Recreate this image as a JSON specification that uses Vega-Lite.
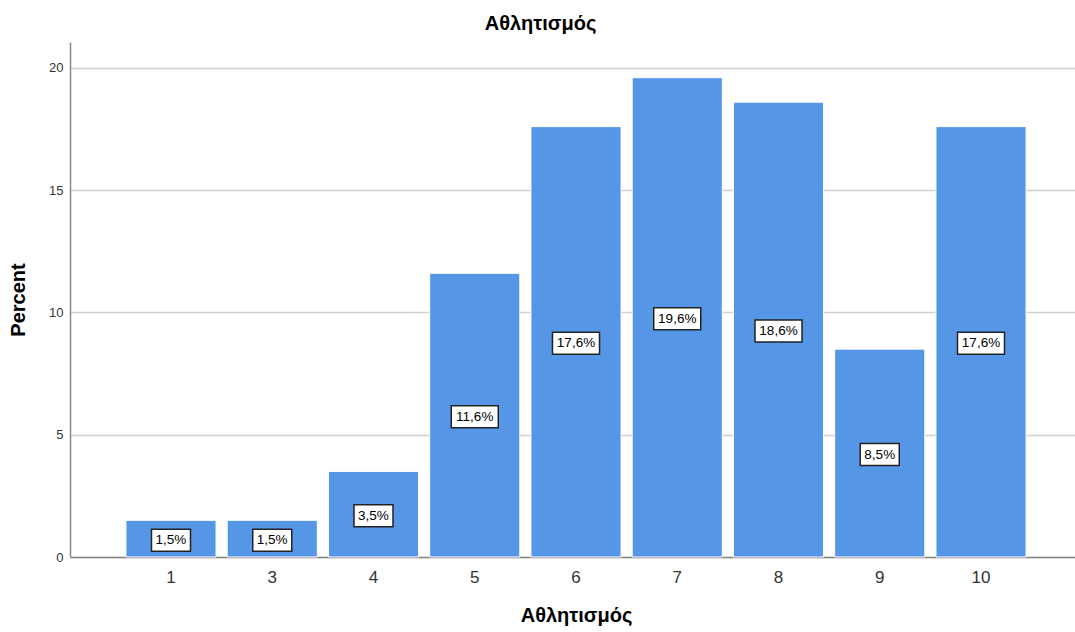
{
  "$schema": "https://vega.github.io/schema/vega-lite/v6.json",
  "autosize": {"type": "none"},
  "padding": {"left": 70, "top": 42, "right": 0, "bottom": 75},
  "width": 1005,
  "height": 515,
  "background": "white",
  "title": {"text": "Αθλητισμός", "anchor": "middle", "dx": -32, "offset": 8, "font": "Liberation Sans", "fontSize": 20, "fontWeight": "bold", "color": "#000000"},
  "config": {"view": {"stroke": null}, "font": "Liberation Sans"},
  "data": {"values": [
    {"cat": "1", "pct": 1.5, "label": "1,5%"},
    {"cat": "3", "pct": 1.5, "label": "1,5%"},
    {"cat": "4", "pct": 3.5, "label": "3,5%"},
    {"cat": "5", "pct": 11.6, "label": "11,6%"},
    {"cat": "6", "pct": 17.6, "label": "17,6%"},
    {"cat": "7", "pct": 19.6, "label": "19,6%"},
    {"cat": "8", "pct": 18.6, "label": "18,6%"},
    {"cat": "9", "pct": 8.5, "label": "8,5%"},
    {"cat": "10", "pct": 17.6, "label": "17,6%"}
  ]},
  "encoding": {
    "x": {"field": "cat", "type": "ordinal", "sort": null,
      "scale": {"range": [0, 1012], "paddingInner": 0.11, "paddingOuter": 0.5525},
      "axis": {"title": "Αθλητισμός", "labelAngle": 0, "labelFontSize": 17, "labelColor": "#333333", "labelPadding": 12, "ticks": false, "domainColor": "#888888", "domainWidth": 1.5, "titleFontSize": 20, "titleFontWeight": "bold", "titleColor": "#000000", "titlePadding": 20, "grid": false}
    }
  },
  "resolve": {"scale": {"y": "independent"}},
  "layer": [
    {
      "mark": {"type": "bar", "color": "#5596E6", "stroke": "#ffffff", "strokeWidth": 1},
      "encoding": {
        "y": {"field": "pct", "type": "quantitative",
          "scale": {"domain": [0, 21.06], "nice": false, "zero": true},
          "axis": {"title": "Percent", "values": [0, 5, 10, 15, 20], "labelFontSize": 13, "labelColor": "#333333", "labelPadding": 7, "ticks": false, "domainColor": "#888888", "domainWidth": 1.5, "gridColor": "#D0D0D0", "gridWidth": 1.5, "titleFontSize": 20, "titleFontWeight": "bold", "titleColor": "#000000", "titlePadding": 20}
        }
      }
    },
    {
      "mark": {"type": "point", "filled": true, "fill": "#ffffff", "stroke": "#222222", "strokeWidth": 1.5, "opacity": 1, "yOffset": 1.5},
      "encoding": {
        "y": {"field": "pct", "type": "quantitative", "scale": {"domain": [0, 42.12], "nice": false, "zero": true}, "axis": null},
        "shape": {"condition": {"test": "datum.pct >= 10", "value": "M-1,-0.468 L1,-0.468 L1,0.468 L-1,0.468 Z"}, "value": "M-1,-0.564 L1,-0.564 L1,0.564 L-1,0.564 Z"},
        "size": {"condition": {"test": "datum.pct >= 10", "value": 2209}, "value": 1521}
      }
    },
    {
      "mark": {"type": "text", "fontSize": 13.5, "color": "#000000", "baseline": "middle", "align": "center", "yOffset": 1.5},
      "encoding": {
        "y": {"field": "pct", "type": "quantitative", "scale": {"domain": [0, 42.12], "nice": false, "zero": true}, "axis": null},
        "text": {"field": "label"}
      }
    }
  ]
}
